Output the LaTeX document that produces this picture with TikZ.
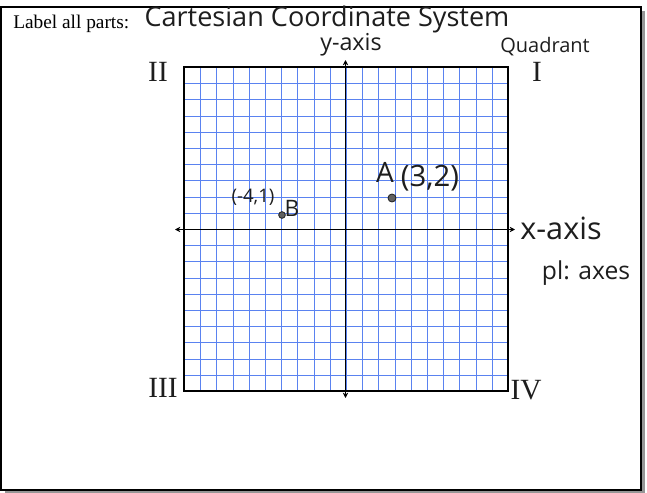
\documentclass[tikz,border=0pt]{standalone}
\usepackage{fontspec}
\setmainfont{Liberation Serif}
\newfontfamily\handfont{Open Sans}
\usetikzlibrary{arrows.meta}
\definecolor{gridblue}{RGB}{90,130,240}
\definecolor{shadowgray}{RGB}{150,150,150}
\definecolor{ink}{RGB}{30,30,30}
\tikzset{
  hand/.style={font=\handfont\fontsize{#1}{#1}\selectfont, text=ink, inner sep=0pt},
  hand/.default=18,
  numeral/.style={font=\fontsize{22}{22}\selectfont, text=ink, inner sep=0pt},
  axisline/.style={line width=1.4pt, {Stealth[length=4pt,width=4pt]}-{Stealth[length=4pt,width=4pt]}},
  gridline/.style={gridblue, line width=1pt},
  pointdot/.style={draw=ink, fill=ink!70, line width=0.6pt},
}
\begin{document}
\begin{tikzpicture}[x=0.75pt,y=-0.75pt]
\useasboundingbox (0,0) rectangle (647,493);
% frame with shadow
\fill[shadowgray] (5,11) rectangle (645,493);
\draw[fill=white,line width=1.4pt] (1,7) rectangle (641,490);
\node[anchor=base west, font=\fontsize{14.5}{14.5}\selectfont, inner sep=0pt] (prompt) at (13,28) {Label all parts:};
% grid, snapped to whole pixels
\foreach \i in {1,...,19} {
  \pgfmathsetmacro{\gx}{round(184+\i*16.2)+0.5}
  \pgfmathsetmacro{\gy}{round(67+\i*16.2)+0.5}
  \draw[gridline] (\gx,67) -- (\gx,391);
  \draw[gridline] (184,\gy) -- (508,\gy);
}
\draw[line width=1.4pt] (184,67) rectangle (508,391);
% axes
\coordinate (ytop) at (345.5,60);
\coordinate (ybot) at (345.5,398);
\coordinate (xleft) at (175,229.5);
\coordinate (xright) at (515,229.5);
\draw[axisline] (ybot) -- (ytop);
\draw[axisline] (xleft) -- (xright);
% handwritten labels
\node[hand=20.3] (title) at (327,19) {Cartesian Coordinate System};
\node[hand=17.5] (ylabel) at (351,45) {y-axis};
\node[hand=15] (quadlabel) at (545,47) {Quadrant};
\node[hand=23] (xlabel) at (561,228) {x-axis};
\node[hand=18.5] (note) at (586,273) {pl: axes};
\node[numeral] (qone) at (537,72) {I};
\node[numeral] (qtwo) at (158,72) {II};
\node[numeral] (qthree) at (163,388) {III};
\node[numeral] (qfour) at (526,390) {IV};
% points
\node[pointdot, circle, inner sep=0pt, minimum size=6pt] (dotA) at (392,198) {};
\node[hand=21] (nameA) at (385,172) {A};
\node[hand=22] (coordA) at (430,178) {(3,2)};
\node[pointdot, circle, inner sep=0pt, minimum size=5pt] (dotB) at (282,215) {};
\node[hand=17] (nameB) at (292,208) {B};
\node[hand=14] (coordB) at (253,197) {(-4,1)};
\end{tikzpicture}
\end{document}
